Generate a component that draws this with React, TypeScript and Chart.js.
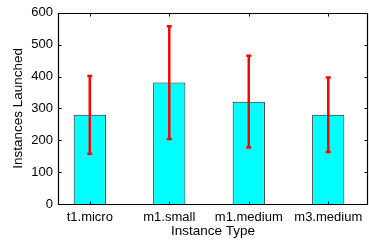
import React, { useEffect, useRef } from "react";
import { Chart, registerables } from "chart.js";

Chart.register(...registerables);

const categories = ["t1.micro", "m1.small", "m1.medium", "m3.medium"];
const means = [280, 381, 321, 280];
const errors = [122, 177, 144, 117];
const yTicks = [0, 100, 200, 300, 400, 500, 600];

const FONT = "'Liberation Sans', Arial, Helvetica, sans-serif";

const boxAndErrorPlugin = {
  id: "boxAndError",
  afterDatasetsDraw(chart: any) {
    const { ctx, chartArea, scales } = chart;
    const xs = scales.x;
    const ys = scales.y;
    ctx.save();
    // error bars
    ctx.strokeStyle = "#ff0000";
    ctx.lineWidth = 2.5;
    ctx.lineCap = "butt";
    means.forEach((m, i) => {
      const px = xs.getPixelForValue(i + 1);
      const top = ys.getPixelForValue(m + errors[i]);
      const bot = ys.getPixelForValue(m - errors[i]);
      ctx.beginPath();
      ctx.moveTo(px, top);
      ctx.lineTo(px, bot);
      ctx.stroke();
      ctx.beginPath();
      ctx.moveTo(px - 2.5, top);
      ctx.lineTo(px + 2.5, top);
      ctx.moveTo(px - 2.5, bot);
      ctx.lineTo(px + 2.5, bot);
      ctx.stroke();
    });
    // box
    const l = Math.round(chartArea.left) + 0.5;
    const r = Math.round(chartArea.right) - 0.5;
    const t = Math.round(chartArea.top) + 0.5;
    const b = Math.round(chartArea.bottom) + 0.5;
    ctx.strokeStyle = "#000";
    ctx.lineWidth = 1.2;
    ctx.beginPath();
    ctx.rect(l, t, r - l, b - t);
    ctx.stroke();
    const tl = 3;
    ctx.lineWidth = 1;
    ctx.beginPath();
    yTicks.forEach((v) => {
      const py = Math.round(ys.getPixelForValue(v)) + 0.5;
      ctx.moveTo(l, py);
      ctx.lineTo(l + tl, py);
      ctx.moveTo(r, py);
      ctx.lineTo(r - tl, py);
    });
    categories.forEach((_, i) => {
      const px = Math.round(xs.getPixelForValue(i + 1)) + 0.5;
      ctx.moveTo(px, b);
      ctx.lineTo(px, b - tl);
      ctx.moveTo(px, t);
      ctx.lineTo(px, t + tl);
    });
    ctx.stroke();
    ctx.restore();
  },
};

export default function App() {
  const ref = useRef<HTMLCanvasElement | null>(null);
  useEffect(() => {
    if (!ref.current) return;
    const chart = new Chart(ref.current, {
      type: "bar",
      data: {
        datasets: [
          {
            data: means.map((m, i) => ({ x: i + 1, y: m })),
            backgroundColor: "#00ffff",
            borderColor: "#1a1a1a",
            borderWidth: 1,
            barPercentage: 0.405,
            categoryPercentage: 1,
          },
        ],
      },
      options: {
        responsive: false,
        animation: false,
        devicePixelRatio: 1,
        layout: { padding: { top: 1, right: 1, left: 0, bottom: 0 } },
        plugins: { legend: { display: false }, tooltip: { enabled: false } },
        scales: {
          x: {
            type: "linear",
            offset: false,
            min: 0.6,
            max: 4.5,
            grid: { display: false, drawTicks: false },
            border: { display: false },
            afterBuildTicks: (scale: any) => {
              scale.ticks = categories.map((_, i) => ({ value: i + 1 }));
            },
            afterFit: (scale: any) => {
              scale.height = 37;
            },
            ticks: {
              autoSkip: false,
              maxRotation: 0,
              padding: 6,
              color: "#000",
              font: { family: FONT, size: 13 },
              callback: (v: any) => categories[Math.round(v) - 1] ?? "",
            },
            title: {
              display: true,
              text: "Instance Type",
              color: "#000",
              font: { family: FONT, size: 13.5 },
              padding: { top: 0, bottom: 2 },
            },
          },
          y: {
            min: 0,
            max: 600,
            grid: { display: false, drawTicks: false },
            border: { display: false },
            afterFit: (scale: any) => {
              scale.width = 58;
            },
            ticks: {
              stepSize: 100,
              padding: 5,
              color: "#000",
              font: { family: FONT, size: 13 },
            },
            title: {
              display: true,
              text: "Instances Launched",
              color: "#000",
              font: { family: FONT, size: 13.5 },
              padding: { top: 10, bottom: 0 },
            },
          },
        },
      },
      plugins: [boxAndErrorPlugin],
    });
    return () => chart.destroy();
  }, []);
  return (
    <div style={{ position: "absolute", left: 0, top: 0, width: 369, height: 241, background: "#fff" }}>
      <canvas ref={ref} width={369} height={241} style={{ width: 369, height: 241 }} />
    </div>
  );
}
